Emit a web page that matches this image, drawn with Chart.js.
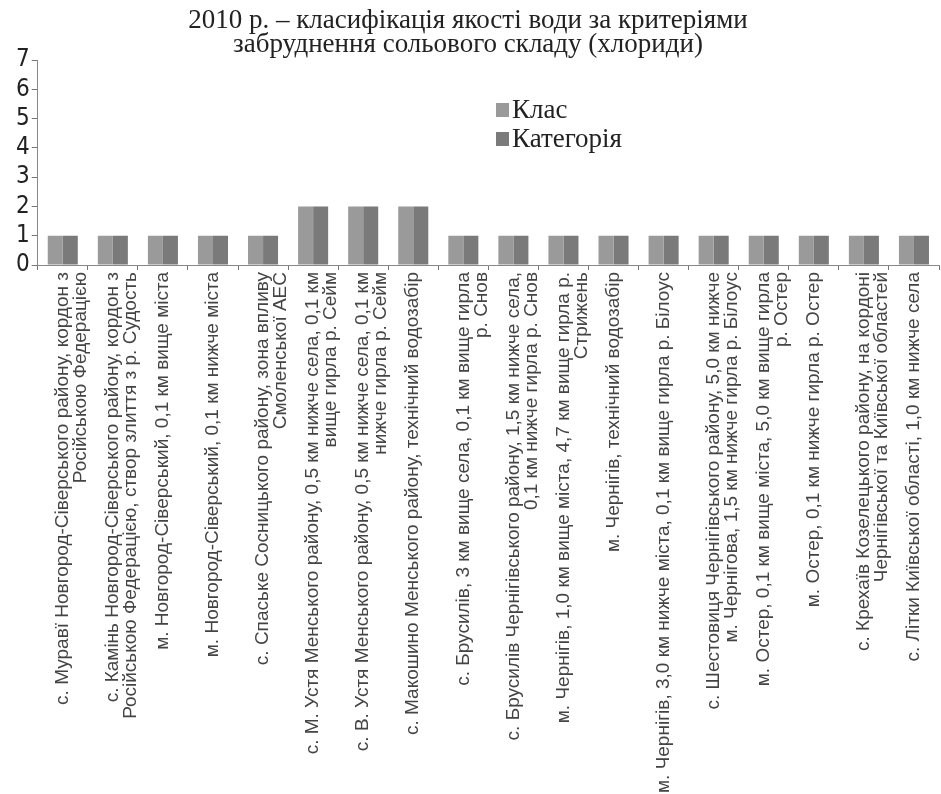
<!DOCTYPE html>
<html>
<head>
<meta charset="utf-8">
<script src="https://cdn.jsdelivr.net/npm/chart.js@4.4.1/dist/chart.umd.min.js"></script>
<style>
  html, body { margin: 0; padding: 0; background: #fff; }
  #wrap { width: 941px; height: 794px; }
</style>
</head>
<body>
<div id="wrap"><canvas id="chartVoda" width="941" height="794"></canvas></div>
<script>
var titulo = ["2010 р. – класифікація якості води за критеріями", "забруднення сольового складу (хлориди)"];

var pontos = [
  ["с. Муравї Новгород-Сіверського району, кордон з", "Російською Федерацією"],
  ["с. Камінь Новгород-Сіверського району, кордон з", "Російською Федерацією, створ злиття з р. Судость"],
  ["м. Новгород-Сіверський, 0,1 км вище міста"],
  ["м. Новгород-Сіверський, 0,1 км нижче міста"],
  ["с. Спаське Сосницького району, зона впливу", "Смоленської АЕС"],
  ["с. М. Устя Менського району, 0,5 км нижче села, 0,1 км", "вище гирла р. Сейм"],
  ["с. В. Устя Менського району, 0,5 км нижче села, 0,1 км", "нижче гирла р. Сейм"],
  ["с. Макошино Менського району, технічний водозабір"],
  ["с. Брусилів, 3 км вище села, 0,1 км вище гирла", "р. Снов"],
  ["с. Брусилів Чернігівського району, 1,5 км нижче села,", "0,1 км нижче гирла р. Снов"],
  ["м. Чернігів, 1,0 км вище міста, 4,7 км вище гирла р.", "Стрижень"],
  ["м. Чернігів, технічний водозабір"],
  ["м. Чернігів, 3,0 км нижче міста, 0,1 км вище гирла р. Білоус"],
  ["с. Шестовиця Чернігівського району, 5,0 км нижче", "м. Чернігова, 1,5 км нижче гирла р. Білоус"],
  ["м. Остер, 0,1 км вище міста, 5,0 км вище гирла", "р. Остер"],
  ["м. Остер, 0,1 км нижче гирла р. Остер"],
  ["с. Крехаїв Козелецького району, на кордоні", "Чернігівської та Київської областей"],
  ["с. Літки Київської області, 1,0 км нижче села"]
];

var series = ["Клас", "Категорія"];
var klas      = [1, 1, 1, 1, 1, 2, 2, 2, 1, 1, 1, 1, 1, 1, 1, 1, 1, 1];
var kategoria = [1, 1, 1, 1, 1, 2, 2, 2, 1, 1, 1, 1, 1, 1, 1, 1, 1, 1];
var yTicks = [0, 1, 2, 3, 4, 5, 6, 7];

var cores = ['#9a9a9a', '#7a7a7a'];
var serifa = '"Liberation Serif", "Times New Roman", serif';

// titulo e legenda desenhados a mao em posicoes fixas
var textosExtra = {
  id: 'textosExtra',
  afterDraw: function (chart) {
    var ctx = chart.ctx;
    ctx.save();
    ctx.fillStyle = '#222';
    ctx.textBaseline = 'middle';
    ctx.textAlign = 'center';
    ctx.font = '27px ' + serifa;
    titulo.forEach(function (linha, i) {
      ctx.fillText(linha, 468, 21 + i * 24);
    });

    ctx.textAlign = 'left';
    ctx.font = '27px ' + serifa;
    chart.data.datasets.forEach(function (ds, i) {
      var y = 110 + i * 29;
      ctx.fillStyle = ds.backgroundColor;
      ctx.fillRect(496, y - 7, 13, 14);
      ctx.fillStyle = '#222';
      ctx.fillText(ds.label, 512, y + 1);
    });
    ctx.restore();
  }
};

function plot() {
  var ctxVoda = document.getElementById("chartVoda");
  var chartGraph = new Chart(ctxVoda, {
    type: 'bar',
    data: {
      labels: pontos,
      datasets: [{
        label: series[0],
        data: klas,
        backgroundColor: cores[0],
        categoryPercentage: 0.6,
        barPercentage: 1.0
      }, {
        label: series[1],
        data: kategoria,
        backgroundColor: cores[1],
        categoryPercentage: 0.6,
        barPercentage: 1.0
      }]
    },
    options: {
      responsive: false,
      animation: false,
      layout: { padding: { left: 14, right: 2, top: 60, bottom: 2 } },
      plugins: {
        title: { display: false },
        legend: { display: false },
        tooltip: { enabled: false }
      },
      scales: {
        x: {
          afterFit: function (scale) { scale.height = 527; },
          grid: { display: true, drawOnChartArea: false, drawTicks: true, tickLength: 5, color: '#777', offset: true },
          border: { color: '#888' },
          ticks: {
            autoSkip: false,
            minRotation: 90,
            maxRotation: 90,
            padding: 2,
            color: '#444',
            font: { family: '"Liberation Sans", Arial, sans-serif', size: 19, lineHeight: 0.95 }
          }
        },
        y: {
          min: 0,
          max: 7,
          afterBuildTicks: function (axis) {
            axis.ticks = yTicks.map(function (v) { return { value: v }; });
          },
          grid: { display: true, drawOnChartArea: false, drawTicks: true, tickLength: 6, color: '#777' },
          border: { color: '#888' },
          ticks: {
            autoSkip: false,
            padding: 2,
            color: '#222',
            font: { family: '"Liberation Sans Narrow", "DejaVu Sans Condensed", sans-serif', size: 24, lineHeight: 1.0 }
          }
        }
      }
    },
    plugins: [textosExtra]
  });
}

plot();
</script>
</body>
</html>
